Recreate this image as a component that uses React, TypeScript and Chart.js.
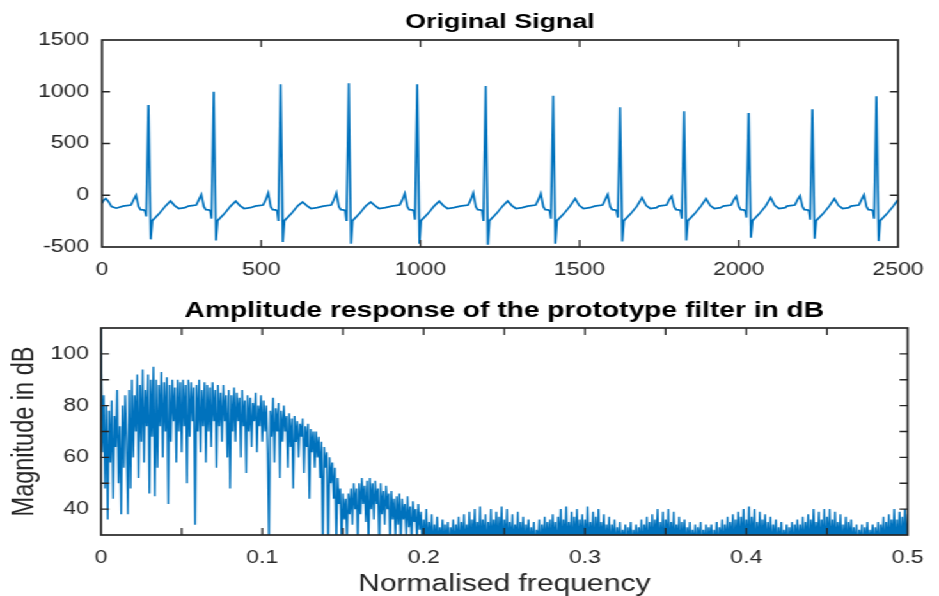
import React, { useEffect, useRef } from 'react';
import { Chart, registerables } from 'chart.js';

Chart.register(...registerables);

// The reference is horizontally stretched; draw in a narrower space and stretch with CSS.
const W = 734;
const K = 939 / W;

const FONT = '"Liberation Sans", Arial, Helvetica, sans-serif';
const AXIS_COLOR = '#262626';
const LINE_COLOR = '#0072BD';

// ---------- Top plot: Original Signal ----------
const ecgXTicks = [0, 500, 1000, 1500, 2000, 2500];
const ecgYTicks = [-500, 0, 500, 1000, 1500];
const ecgLeadX = [0, 6, 12, 20, 30, 45];
const ecgLeadY = [-75, -45, -32, -60, -110, -125];
const beatR = [146, 351, 561, 775, 990, 1205, 1417, 1627, 1828, 2031, 2231, 2432];
const beatP = [0, 6, 22, 22, 16, 22, 16, 6, -10, -10, -6, 4];
const beatQ = [-205, -226, -249, -249, -236, -249, -226, -215, -226, -215, -236, -226];
const beatRAmp = [872, 1001, 1072, 1082, 1072, 1056, 962, 850, 811, 795, 830, 956];
const beatS = [-426, -436, -452, -468, -468, -478, -468, -446, -436, -410, -420, -443];
const beatT = [-55, -58, -65, -65, -58, -55, -32, -22, -32, -22, -32, -40];
// offsets (samples from the R peak) and baseline levels of one heartbeat
const shapeOffset = [-80, -55, -47, -39, -31, -25, -16, -11, -7, 0, 7, 12, 33, 53, 69, 82, 95, 115];
const shapeLevel: (number | string)[] = [-105, -95, -45, 'P', -110, -140, -142, -150, 'Q', 'R', 'S', -245, -180, -105, 'T', -100, -128, -120];
const ecgTailX = [2499];
const ecgTailY = [-45];

// ---------- Bottom plot: amplitude response ----------
const freqXTicks = [0, 0.1, 0.2, 0.3, 0.4, 0.5];
const freqYTicks = [40, 60, 80, 100];
const freqStep = 1 / 1200;
const magDb = [
  110, 62, 84, 48, 80, 36, 78, 58, 82, 44, 76, 64, 86, 50, 72, 38, 80, 56, 84, 66,
  38, 86, 48, 90, 60, 84, 70, 92, 52, 88, 66, 94, 58, 86, 72, 92, 46, 90, 68, 95,
  45, 90, 56, 88, 72, 93, 60, 89, 70, 91, 42, 88, 66, 90, 74, 87, 58, 90, 70, 89,
  62, 90, 72, 88, 50, 90, 68, 89, 74, 87, 34, 88, 70, 90, 62, 86, 72, 89, 58, 88,
  70, 87, 64, 89, 74, 86, 56, 88, 72, 85, 66, 88, 74, 84, 60, 86, 48, 84, 70, 87,
  66, 85, 74, 83, 60, 86, 72, 82, 54, 84, 70, 83, 64, 81, 74, 85, 62, 80, 72, 84,
  66, 82, 70, 80, 62, 25, 78, 68, 83, 58, 79, 70, 81, 52, 78, 66, 80, 70, 76, 56,
  77, 64, 75, 48, 76, 66, 74, 60, 73, 68, 75, 54, 72, 64, 73, 44, 71, 62, 70, 56,
  70, 60, 68, 52, 66, 27, 64, 56, 62, 25, 60, 50, 58, 44, 56, 26, 52, 42, 48, 25,
  46, 36, 44, 28, 46, 38, 48, 34, 50, 40, 48, 26, 50, 38, 52, 42, 49, 35, 51, 26,
  52, 40, 50, 36, 51, 42, 48, 25, 50, 38, 47, 34, 49, 40, 46, 26, 47, 36, 44, 30,
  45, 34, 46, 27, 44, 36, 42, 30, 45, 33, 41, 26, 43, 35, 40, 28, 42, 32, 39, 25,
  36, 26, 40, 24, 35, 27, 38, 23, 34, 26, 37, 25, 33, 27, 36, 24, 34, 26, 35, 23,
  33, 27, 36, 24, 34, 26, 37, 23, 35, 27, 38, 25, 34, 26, 39, 24, 36, 27, 40, 25,
  35, 26, 41, 24, 36, 27, 38, 23, 35, 26, 40, 25, 36, 27, 39, 24, 37, 26, 41, 23,
  36, 27, 40, 24, 35, 26, 38, 25, 34, 27, 39, 23, 35, 26, 37, 24, 34, 27, 36, 25,
  33, 26, 35, 24, 32, 27, 36, 23, 34, 26, 37, 25, 35, 27, 36, 24, 38, 26, 35, 23,
  37, 27, 40, 24, 36, 26, 41, 25, 35, 27, 39, 23, 37, 26, 40, 24, 36, 27, 38, 25,
  36, 26, 41, 24, 35, 27, 39, 23, 37, 26, 40, 25, 35, 27, 38, 24, 34, 26, 37, 23,
  34, 27, 36, 24, 33, 26, 35, 25, 32, 27, 34, 23, 33, 26, 35, 24, 32, 27, 34, 25,
  33, 26, 36, 24, 34, 27, 37, 23, 35, 26, 38, 25, 36, 27, 40, 24, 35, 26, 39, 23,
  36, 27, 40, 24, 35, 26, 39, 25, 34, 27, 37, 23, 35, 26, 36, 24, 33, 27, 35, 25,
  32, 26, 34, 24, 33, 27, 35, 23, 32, 26, 34, 25, 33, 27, 34, 24, 32, 26, 35, 23,
  33, 27, 36, 24, 34, 26, 37, 25, 35, 27, 38, 23, 36, 26, 39, 24, 37, 27, 40, 25,
  36, 26, 41, 24, 37, 27, 40, 23, 35, 26, 39, 25, 36, 27, 38, 24, 35, 26, 37, 23,
  34, 27, 36, 24, 33, 26, 35, 25, 32, 27, 34, 23, 33, 26, 35, 24, 34, 27, 36, 25,
  34, 26, 37, 24, 35, 27, 38, 23, 36, 26, 40, 25, 35, 27, 39, 24, 36, 26, 40, 23,
  37, 27, 40, 24, 36, 26, 39, 25, 35, 27, 38, 23, 34, 26, 37, 24, 35, 27, 36, 25,
  33, 26, 34, 24, 32, 27, 34, 23, 33, 26, 35, 25, 32, 27, 34, 24, 33, 26, 35, 23,
  34, 27, 37, 24, 35, 26, 38, 25, 36, 27, 40, 23, 36, 26, 39, 24, 37, 27, 40, 25,
  38,
];

function buildEcg() {
  const pts: { x: number; y: number }[] = [];
  ecgLeadX.forEach((x, i) => pts.push({ x, y: ecgLeadY[i] }));
  beatR.forEach((r, b) => {
    shapeOffset.forEach((off, j) => {
      const lv = shapeLevel[j];
      let y: number;
      if (lv === 'P') y = beatP[b];
      else if (lv === 'Q') y = beatQ[b];
      else if (lv === 'R') y = beatRAmp[b];
      else if (lv === 'S') y = beatS[b];
      else if (lv === 'T') y = beatT[b];
      else y = lv as number;
      const x = r + off;
      if (x < 2490) pts.push({ x, y });
    });
  });
  ecgTailX.forEach((x, i) => pts.push({ x, y: ecgTailY[i] }));
  return pts;
}

function makeFrame(xTickLen: number, yTickLen: number) {
  return {
    id: 'frame',
    afterDatasetsDraw(chart: any) {
      const { ctx, chartArea: a } = chart;
      const xs = chart.scales.x;
      const ys = chart.scales.y;
      ctx.save();
      ctx.strokeStyle = AXIS_COLOR;
      ctx.lineWidth = 1.3;
      ctx.beginPath();
      for (const t of xs.ticks) {
        const p = xs.getPixelForValue(t.value);
        if (p < a.left + 1 || p > a.right - 1) continue;
        ctx.moveTo(p, a.bottom);
        ctx.lineTo(p, a.bottom - xTickLen);
        ctx.moveTo(p, a.top);
        ctx.lineTo(p, a.top + xTickLen);
      }
      for (const t of ys.ticks) {
        const p = ys.getPixelForValue(t.value);
        if (p < a.top + 1 || p > a.bottom - 1) continue;
        ctx.moveTo(a.left, p);
        ctx.lineTo(a.left + yTickLen, p);
        ctx.moveTo(a.right, p);
        ctx.lineTo(a.right - yTickLen, p);
      }
      ctx.stroke();
      ctx.lineWidth = 1.7;
      ctx.strokeRect(a.left, a.top, a.right - a.left, a.bottom - a.top);
      ctx.restore();
    },
  };
}

const near = (v: number, list: number[]) => list.some((t) => Math.abs(t - v) < 1e-6);

export default function App() {
  const topRef = useRef<HTMLCanvasElement>(null);
  const botRef = useRef<HTMLCanvasElement>(null);

  useEffect(() => {
    const tickFont = { family: FONT, size: 18 };
    const c1 = new Chart(topRef.current as HTMLCanvasElement, {
      type: 'line',
      data: {
        datasets: [
          {
            data: buildEcg(),
            borderColor: LINE_COLOR,
            borderWidth: 1.7,
            pointRadius: 0,
            tension: 0,
            clip: 0,
          } as any,
        ],
      },
      options: {
        animation: false,
        responsive: false,
        events: [],
        layout: { padding: { left: 0, right: W - 912 / K, top: 0, bottom: 0 } },
        plugins: {
          legend: { display: false },
          tooltip: { enabled: false },
          title: {
            display: true,
            text: 'Original Signal',
            fullSize: false,
            color: '#000',
            font: { family: FONT, size: 21, weight: 'bold' },
            padding: { top: 9.4, bottom: 5.4 },
          },
        },
        scales: {
          x: {
            type: 'linear',
            min: 0,
            max: 2500,
            grid: { display: false, drawTicks: false },
            border: { display: false },
            ticks: {
              stepSize: 500,
              autoSkip: false,
              maxRotation: 0,
              padding: 12,
              color: AXIS_COLOR,
              font: tickFont,
              callback: (v: any) => (near(Number(v), ecgXTicks) ? String(v) : ''),
            },
            afterFit: (s: any) => {
              s.height = 43;
            },
          },
          y: {
            type: 'linear',
            min: -500,
            max: 1500,
            grid: { display: false, drawTicks: false },
            border: { display: false },
            ticks: {
              stepSize: 500,
              autoSkip: false,
              padding: 10,
              color: AXIS_COLOR,
              font: tickFont,
              callback: (v: any) => (near(Number(v), ecgYTicks) ? String(v) : ''),
            },
            afterFit: (s: any) => {
              s.width = 102 / K;
            },
          },
        },
      } as any,
      plugins: [makeFrame(7, 6.3)],
    });

    const magPts = magDb.map((y, i) => ({ x: i * freqStep, y }));
    const c2 = new Chart(botRef.current as HTMLCanvasElement, {
      type: 'line',
      data: {
        datasets: [
          {
            data: magPts,
            borderColor: LINE_COLOR,
            borderWidth: 1.4,
            pointRadius: 0,
            tension: 0,
            clip: 0,
          } as any,
        ],
      },
      options: {
        animation: false,
        responsive: false,
        events: [],
        layout: { padding: { left: 0, right: W - 911 / K, top: 0, bottom: 0 } },
        plugins: {
          legend: { display: false },
          tooltip: { enabled: false },
          title: {
            display: true,
            text: 'Amplitude response of the prototype filter in dB',
            fullSize: false,
            color: '#000',
            font: { family: FONT, size: 22, weight: 'bold' },
            padding: { top: 8.1, bottom: 3.5 },
          },
        },
        scales: {
          x: {
            type: 'linear',
            min: 0,
            max: 0.5,
            grid: { display: false, drawTicks: false },
            border: { display: false },
            ticks: {
              stepSize: 0.05,
              autoSkip: false,
              maxRotation: 0,
              padding: 12,
              color: AXIS_COLOR,
              font: tickFont,
              callback: (v: any) => (near(Number(v), freqXTicks) ? String(Number(Number(v).toFixed(2))) : ''),
            },
            title: {
              display: true,
              text: 'Normalised frequency',
              color: AXIS_COLOR,
              font: { family: FONT, size: 23.5 },
              padding: { top: 0, bottom: 10.9 },
            },
            afterFit: (s: any) => {
              s.height = 75;
            },
          },
          y: {
            type: 'linear',
            min: 30,
            max: 110,
            grid: { display: false, drawTicks: false },
            border: { display: false },
            ticks: {
              stepSize: 10,
              autoSkip: false,
              padding: 9.5,
              color: AXIS_COLOR,
              font: tickFont,
              callback: (v: any) => (near(Number(v), freqYTicks) ? String(v) : ''),
            },
            title: {
              display: true,
              text: 'Magnitude in dB',
              color: AXIS_COLOR,
              font: { family: FONT, size: 23.5 },
              padding: { top: 5, bottom: 0 },
            },
            afterFit: (s: any) => {
              s.width = 101 / K;
            },
          },
        },
      } as any,
      plugins: [makeFrame(7, 6.3)],
    });

    return () => {
      c1.destroy();
      c2.destroy();
    };
  }, []);

  return (
    <div
      style={{
        position: 'fixed',
        left: 0,
        top: 0,
        width: 939,
        height: 596,
        overflow: 'hidden',
        background: '#fff',
      }}
    >
      <div style={{ width: W, height: 610, transform: `scaleX(${K})`, transformOrigin: '0 0' }}>
        <canvas ref={topRef} width={W} height={290} style={{ display: 'block', width: W, height: 290 }} />
        <canvas ref={botRef} width={W} height={320} style={{ display: 'block', width: W, height: 320 }} />
      </div>
    </div>
  );
}
